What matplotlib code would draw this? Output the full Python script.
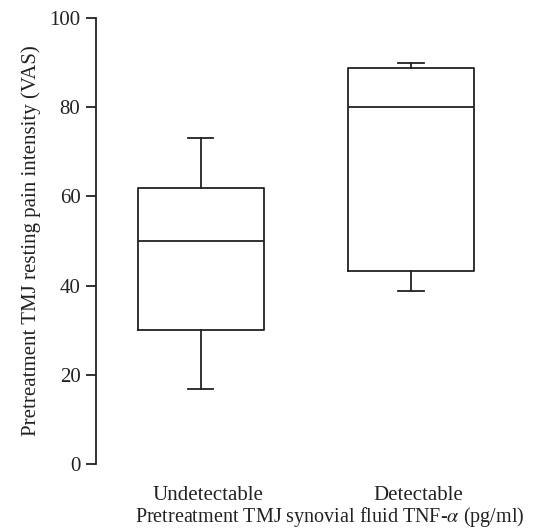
import matplotlib.pyplot as plt
import matplotlib.transforms as mtransforms

# box plot summary
groups = ["Undetectable", "Detectable"]
whisker_low = [16.9, 38.8]
q1 = [30.1, 43.3]
median = [50.0, 80.0]
q3 = [62.0, 88.7]
whisker_high = [73.0, 89.9]

plt.rcParams["font.family"] = ["Liberation Serif", "DejaVu Serif"]
plt.rcParams["mathtext.fontset"] = "stix"

stats = []
for i, name in enumerate(groups):
    stats.append({
        "label": name,
        "whislo": whisker_low[i],
        "q1": q1[i],
        "med": median[i],
        "q3": q3[i],
        "whishi": whisker_high[i],
        "fliers": [],
    })

fig = plt.figure(figsize=(5.38, 5.31), dpi=100)
ax = fig.add_axes([0.178, 0.126, 0.781, 0.840])

lw = 1.3
ax.bxp(stats, positions=[1, 2], widths=0.6, showfliers=False,
       boxprops=dict(color="#222222", linewidth=lw),
       medianprops=dict(color="#222222", linewidth=lw),
       whiskerprops=dict(color="#222222", linewidth=lw),
       capprops=dict(color="#222222", linewidth=lw),
       capwidths=0.12)

ax.set_xlim(0.5, 2.5)
ax.set_ylim(0, 100)
ax.set_yticks([0, 20, 40, 60, 80, 100])
ax.set_xticks([1, 2])
ax.set_xticklabels(groups)

fs = 15
for s in ["top", "right", "bottom"]:
    ax.spines[s].set_visible(False)
ax.spines["left"].set_linewidth(lw)
ax.spines["left"].set_color("#222222")
ax.tick_params(axis="y", direction="out", length=7, width=lw, labelsize=fs, pad=4, colors="#222222")
ax.tick_params(axis="x", length=0, labelsize=fs, pad=16, colors="#222222")

# the category labels sit a little right of the box centres
shift = mtransforms.ScaledTranslation(7 / 100, 0, fig.dpi_scale_trans)
for lab in ax.get_xticklabels():
    lab.set_transform(lab.get_transform() + shift)

ax.set_ylabel("Pretreatment TMJ resting pain intensity (VAS)", fontsize=fs, color="#222222", labelpad=6)
ax.set_xlabel(r"Pretreatment TMJ synovial fluid TNF-$\alpha$ (pg/ml)", fontsize=14.5, color="#222222")
ax.xaxis.set_label_coords(0.557, -0.145)
ax.xaxis.label.set_va("bottom")

fig.savefig("out.png", dpi=100)
